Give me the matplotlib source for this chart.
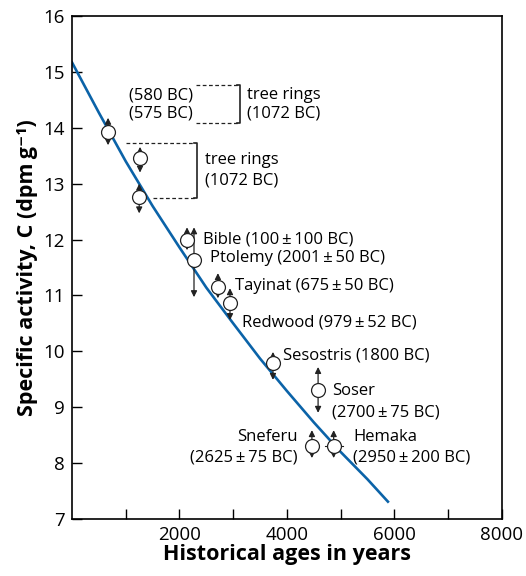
import numpy as np
from matplotlib import pyplot as plt

plt.rcParams['font.family'] = ['Open Sans', 'DejaVu Sans']

# decay curve (years, dpm/g)
curve_years = [0, 500, 1000, 1500, 2000, 2500, 3000, 3500, 4000, 4500, 5000, 5500, 5880]
curve_activity = [15.17, 14.27, 13.40, 12.60, 11.86, 11.14, 10.50, 9.87, 9.29, 8.73, 8.20, 7.71, 7.31]

# historical samples
names = ['580BC', 'tree_hi', 'tree_lo', 'Bible', 'Ptolemy', 'Tayinat',
         'Redwood', 'Sesostris', 'Soser', 'Sneferu', 'Hemaka']
years = [670, 1265, 1250, 2140, 2270, 2715, 2940, 3740, 4580, 4465, 4870]
activity = [13.92, 13.46, 12.76, 12.00, 11.63, 11.15, 10.86, 9.79, 9.31, 8.31, 8.31]
err_top = [14.18, 13.66, 13.00, 12.22, 12.22, 11.40, 11.13, 9.99, 9.72, 8.59, 8.59]
err_bot = [13.69, 13.20, 12.47, 11.81, 10.97, 10.95, 10.56, 9.49, 8.90, 8.09, 8.09]
hemaka_xerr = [4700, 5040]

labels = ['Bible (100\u2009±\u2009100 BC)', 'Ptolemy (2001\u2009±\u200950 BC)',
          'Tayinat (675\u2009±\u200950 BC)', 'Redwood (979\u2009±\u200952 BC)',
          'Sesostris (1800 BC)']
label_x = [2440, 2560, 3030, 3160, 3930]
label_y = [12.0, 11.67, 11.17, 10.52, 9.93]

fig = plt.figure(figsize=(5.26, 5.76), dpi=100)
ax = fig.add_axes([0.137, 0.099, 0.817, 0.873])

ax.plot(curve_years, curve_activity, color='#0b63a8', lw=1.9, zorder=2)

arrow = dict(arrowstyle='-|>', mutation_scale=9, lw=0.9, color='#222222',
             shrinkA=0, shrinkB=0)
for x, y, t, b in zip(years, activity, err_top, err_bot):
    ax.annotate('', xy=(x, t), xytext=(x, y), arrowprops=arrow, zorder=3)
    ax.annotate('', xy=(x, b), xytext=(x, y), arrowprops=arrow, zorder=3)
ax.plot(hemaka_xerr, [activity[-1]] * 2, color='#222222', lw=0.8, zorder=3)
ax.plot(years, activity, 'o', ms=10, mfc='white', mec='#222222', mew=0.9,
        zorder=4)

fs = 12
for s, x, y in zip(labels, label_x, label_y):
    ax.text(x, y, s, fontsize=fs, va='center', ha='left')
ax.text(4840, 9.29, 'Soser', fontsize=fs, va='center')
ax.text(4840, 8.91, '(2700\u2009±\u200975 BC)', fontsize=fs, va='center')
ax.text(5230, 8.47, 'Hemaka', fontsize=fs, va='center')
ax.text(5230, 8.10, '(2950\u2009±\u2009200 BC)', fontsize=fs, va='center')
ax.text(4190, 8.47, 'Sneferu', fontsize=fs, va='center', ha='right')
ax.text(4190, 8.10, '(2625\u2009±\u200975 BC)', fontsize=fs, va='center', ha='right')

# tree ring brackets
ax.text(1060, 14.58, '(580 BC)', fontsize=fs, va='center')
ax.text(1060, 14.26, '(575 BC)', fontsize=fs, va='center')
ax.plot([2300, 3090], [14.76, 14.76], color='#222222', lw=0.9, ls=(0, (3, 2)))
ax.plot([2300, 3090], [14.08, 14.08], color='#222222', lw=0.9, ls=(0, (3, 2)))
ax.plot([3070, 3130, 3130, 3070], [14.76, 14.76, 14.08, 14.08], color='#222222', lw=1.2)
ax.text(3250, 14.58, 'tree rings', fontsize=fs, va='center')
ax.text(3250, 14.26, '(1072 BC)', fontsize=fs, va='center')

ax.plot([1005, 2280], [13.73, 13.73], color='#222222', lw=0.9, ls=(0, (3, 2)))
ax.plot([1500, 2280], [12.74, 12.74], color='#222222', lw=0.9, ls=(0, (3, 2)))
ax.plot([2270, 2330, 2330, 2270], [13.73, 13.73, 12.74, 12.74], color='#222222', lw=1.2)
ax.text(2470, 13.42, 'tree rings', fontsize=fs, va='center')
ax.text(2470, 13.06, '(1072 BC)', fontsize=fs, va='center')

ax.set_xlim(0, 8000)
ax.set_ylim(7, 16)
ax.set_xticks([2000, 4000, 6000, 8000])
ax.set_xticks([1000, 3000, 5000, 7000], minor=True)
ax.set_yticks(np.arange(7, 17))
ax.tick_params(which='both', direction='in', length=7, width=1, labelsize=13.5,
               top=False, right=False, pad=5)
for sp in ax.spines.values():
    sp.set_linewidth(1.2)

ax.set_xlabel('Historical ages in years', fontsize=15.5, fontweight='bold', labelpad=0)
ax.set_ylabel('Specific activity, C (dpm\u2009g\u207b\u00b9)', fontsize=15.5,
              fontweight='bold', labelpad=4)

fig.savefig('out.png', dpi=100)
